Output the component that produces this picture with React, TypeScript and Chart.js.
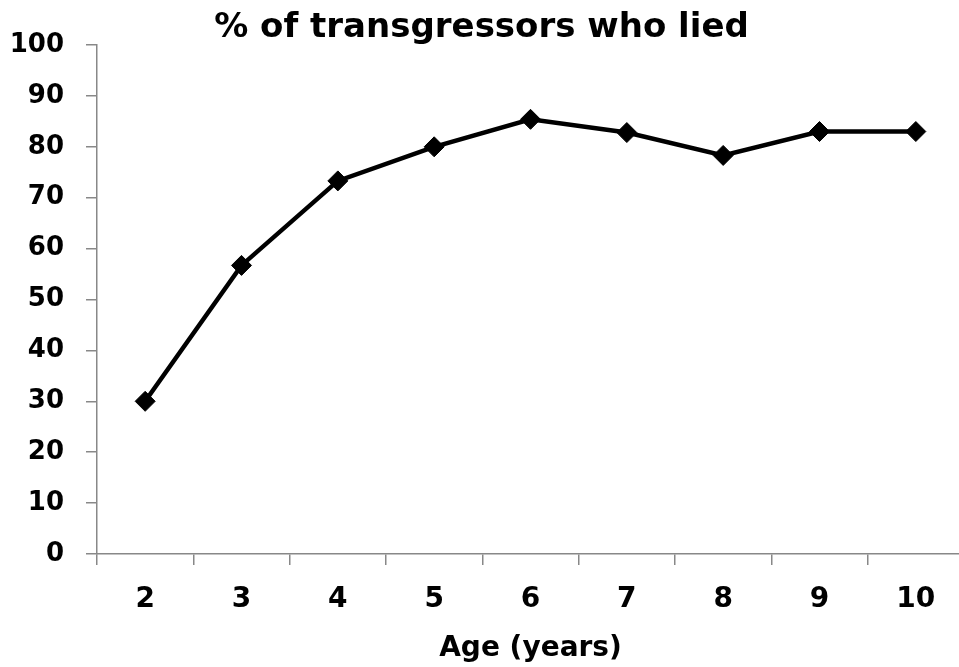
import React, { useEffect, useRef } from "react";
import { Chart, registerables } from "chart.js";

Chart.register(...registerables);

const categories = ["2", "3", "4", "5", "6", "7", "8", "9", "10"];
const liedPercent = [30, 56.7, 73.3, 80, 85.4, 82.8, 78.3, 83, 83];
const yMin = 0;
const yMax = 100;
const yStep = 10;
const titleText = "% of transgressors who lied";
const xTitle = "Age (years)";

const FONT = "'DejaVu Sans', Arial, sans-serif";

export default function App() {
  const ref = useRef<HTMLCanvasElement | null>(null);
  useEffect(() => {
    if (!ref.current) return;
    const chart = new Chart(ref.current, {
      type: "line",
      data: {
        labels: categories,
        datasets: [
          {
            data: liedPercent,
            borderColor: "#000",
            backgroundColor: "#000",
            borderWidth: 4.5,
            pointStyle: "rectRot",
            pointRadius: 10,
            pointBorderWidth: 1,
            pointBackgroundColor: "#000",
            pointBorderColor: "#000",
            tension: 0,
          },
        ],
      },
      options: {
        responsive: false,
        animation: false,
        layout: { padding: { left: -12, right: 0, top: 0, bottom: 0 } },
        plugins: {
          legend: { display: false },
          tooltip: { enabled: false },
          title: {
            display: true,
            text: titleText,
            color: "#000",
            font: { family: FONT, size: 34, weight: "bold", lineHeight: 1 },
            padding: { top: 11, bottom: 0 },
          },
        },
        scales: {
          x: {
            offset: true,
            afterFit: (scale: any) => {
              scale.height = 113;
            },
            grid: {
              offset: true,
              drawOnChartArea: false,
              color: "#888",
              tickLength: 11,
              lineWidth: 1.5,
            },
            border: { color: "#888", width: 1.5 },
            ticks: {
              color: "#000",
              font: { family: FONT, size: 28, weight: "bold" },
              padding: 18,
              maxRotation: 0,
            },
            title: {
              display: true,
              text: xTitle,
              color: "#000",
              font: { family: FONT, size: 28, weight: "bold" },
              padding: { top: 13, bottom: 1 },
            },
          },
          y: {
            min: yMin,
            max: yMax,
            afterFit: (scale: any) => {
              scale.width = 109;
            },
            grid: {
              drawOnChartArea: false,
              color: "#888",
              tickLength: 11,
              lineWidth: 1.5,
            },
            border: { color: "#888", width: 1.5 },
            ticks: {
              stepSize: yStep,
              color: "#000",
              font: { family: FONT, size: 26, weight: "bold" },
              padding: 22,
            },
          },
        },
      },
    });
    return () => chart.destroy();
  }, []);
  return (
    <div
      style={{
        position: "fixed",
        left: 0,
        top: 0,
        width: 959,
        height: 667,
        overflow: "hidden",
        background: "#fff",
      }}
    >
      <canvas ref={ref} width={975} height={667} style={{ width: 975, height: 667, display: "block" }} />
    </div>
  );
}
